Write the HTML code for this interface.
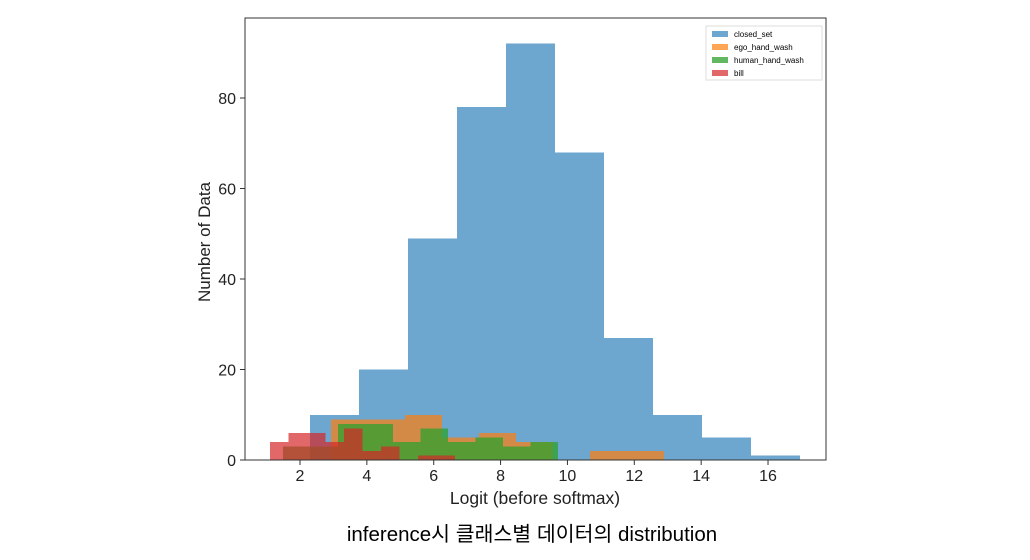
<!DOCTYPE html>
<html><head><meta charset="utf-8"><style>
body{margin:0;background:#fff;width:1030px;height:555px;overflow:hidden}
svg text{font-family:"Liberation Sans","DejaVu Sans",sans-serif}
#marks rect{shape-rendering:crispEdges}
</style></head><body>
<svg width="1030" height="555" xmlns="http://www.w3.org/2000/svg">
<g id="marks"></g>
<rect x="245" y="18" width="581" height="442" fill="none" stroke="#333" stroke-width="1"/>
<g id="axes"></g>
<text x="535" y="504" font-size="17.5" text-anchor="middle" fill="#222">Logit (before softmax)</text>
<text transform="translate(210,242) rotate(-90)" font-size="17" text-anchor="middle" fill="#222">Number of Data</text>
<g>
<rect x="706" y="26" width="116" height="54" fill="#fff" stroke="#ddd"/>
<rect x="712" y="31" width="16" height="6" fill="#1f77b4" fill-opacity="0.65"/>
<text x="734" y="37" font-size="8">closed_set</text>
<rect x="712" y="44" width="16" height="6" fill="#ff7f0e" fill-opacity="0.7"/>
<text x="734" y="50" font-size="8">ego_hand_wash</text>
<rect x="712" y="57" width="16" height="6" fill="#2ca02c" fill-opacity="0.75"/>
<text x="734" y="63" font-size="8">human_hand_wash</text>
<rect x="712" y="70" width="16" height="6" fill="#d62728" fill-opacity="0.7"/>
<text x="734" y="76" font-size="8">bill</text>
</g>
<text x="532" y="541" font-size="20.5" text-anchor="middle" fill="#000" font-family="Liberation Sans, Noto Sans CJK KR, sans-serif">inference시 클래스별 데이터의 distribution</text>
</svg>
<script>
const blueStart=2.30, blueWidth=1.466;
const blueCounts=[10,20,49,78,92,68,27,10,5,1];
const orangeStart=2.93, orangeWidth=1.107;
const orangeCounts=[9,9,10,5,6,4,0,2,2];
const greenStart=1.49, greenWidth=0.823;
const greenCounts=[3,3,8,8,4,7,4,5,3,4];
const redStart=1.10, redWidth=0.553;
const redCounts=[4,6,6,4,7,2,3,0,1,1];
const xTicks=[2,4,6,8,10,12,14,16];
const yTicks=[0,20,40,60,80];
const X=v=>300+(v-2)*33.43;
const Y=v=>460-v*4.525;
const NS="http://www.w3.org/2000/svg";
const marks=document.getElementById('marks');
function series(start,w,counts,color,op,name){
  counts.forEach((c,i)=>{
    if(c<=0)return;
    const r=document.createElementNS(NS,'rect');
    const x0=X(start+i*w),x1=X(start+(i+1)*w);
    r.setAttribute('x',x0);r.setAttribute('width',x1-x0);
    r.setAttribute('y',Y(c));r.setAttribute('height',Y(0)-Y(c));
    r.setAttribute('fill',color);r.setAttribute('fill-opacity',op);
    
    
    marks.appendChild(r);
  });
}
series(blueStart,blueWidth,blueCounts,'#1f77b4',0.65,'closed-set');
series(orangeStart,orangeWidth,orangeCounts,'#ff7f0e',0.7,'ego-hand-wash');
series(greenStart,greenWidth,greenCounts,'#2ca02c',0.75,'human-hand-wash');
series(redStart,redWidth,redCounts,'#d62728',0.7,'bill');
const axes=document.getElementById('axes');
xTicks.forEach(t=>{
  const l=document.createElementNS(NS,'line');
  l.setAttribute('x1',X(t));l.setAttribute('x2',X(t));l.setAttribute('y1',460);l.setAttribute('y2',465);l.setAttribute('stroke','#333');
  
  
  axes.appendChild(l);
  const tx=document.createElementNS(NS,'text');
  tx.setAttribute('x',X(t));tx.setAttribute('y',481);tx.setAttribute('font-size','16');tx.setAttribute('text-anchor','middle');tx.setAttribute('fill','#222');
  tx.textContent=t;
  
  
  axes.appendChild(tx);
});
yTicks.forEach(t=>{
  const l=document.createElementNS(NS,'line');
  l.setAttribute('x1',240);l.setAttribute('x2',245);l.setAttribute('y1',Y(t));l.setAttribute('y2',Y(t));l.setAttribute('stroke','#333');
  
  
  axes.appendChild(l);
  const tx=document.createElementNS(NS,'text');
  tx.setAttribute('x',236);tx.setAttribute('y',Y(t)+6);tx.setAttribute('font-size','16');tx.setAttribute('text-anchor','end');tx.setAttribute('fill','#222');
  tx.textContent=t;
  
  
  axes.appendChild(tx);
});
</script>
</body></html>
